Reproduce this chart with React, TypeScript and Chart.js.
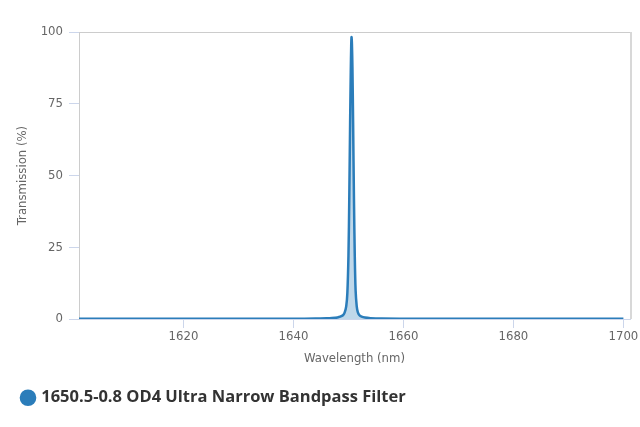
import React, { useEffect, useRef } from 'react';
import { Chart, registerables } from 'chart.js';

Chart.register(...registerables);

// Filter transmission curve
const seriesName = '1650.5-0.8 OD4 Ultra Narrow Bandpass Filter';

const wavelengths = [
  1601, 1610, 1620, 1630, 1640, 1644, 1646, 1647, 1648, 1648.5, 1649, 1649.3,
  1649.6, 1649.8, 1650.0, 1650.15, 1650.3, 1650.42, 1650.5, 1650.56, 1650.63,
  1650.72, 1650.85, 1651.0, 1651.15, 1651.3, 1651.5, 1651.7, 1652.0, 1652.4,
  1653, 1654, 1656, 1660, 1670, 1680, 1690, 1700,
];

const transmission = [
  0.05, 0.05, 0.05, 0.05, 0.1, 0.15, 0.25, 0.35, 0.55, 0.8, 1.3, 2.2,
  4.5, 9, 22, 42, 68, 86, 95, 98.2, 96,
  88, 68, 42, 22, 10, 4.5, 2.4, 1.3, 0.8,
  0.5, 0.3, 0.15, 0.1, 0.05, 0.05, 0.05, 0.05,
];

const xTicks = [1620, 1640, 1660, 1680, 1700];
const yTicks = [0, 25, 50, 75, 100];

const lineColor = 'rgb(43, 125, 186)';
const fillColor = 'rgba(43, 125, 186, 0.3)';
const axisFont = { family: '"DejaVu Sans Condensed", "DejaVu Sans", sans-serif', size: 13 };

const plotBorder = {
  id: 'plotBorder',
  afterDatasetsDraw(chart: Chart) {
    const { ctx, chartArea } = chart;
    ctx.save();
    ctx.strokeStyle = '#cccccc';
    ctx.lineWidth = 1;
    ctx.beginPath();
    ctx.moveTo(chartArea.left, chartArea.top + 0.5);
    ctx.lineTo(chartArea.right, chartArea.top + 0.5);
    ctx.stroke();
    ctx.lineWidth = 2;
    ctx.strokeStyle = '#d8d8d8';
    ctx.beginPath();
    ctx.moveTo(chartArea.right + 1, chartArea.top);
    ctx.lineTo(chartArea.right + 1, chartArea.bottom);
    ctx.stroke();
    ctx.restore();
  },
};

const App: React.FC = () => {
  const canvasRef = useRef<HTMLCanvasElement>(null);
  const chartRef = useRef<Chart | null>(null);

  useEffect(() => {
    document.body.style.margin = '0';
    if (!canvasRef.current) return;
    if (chartRef.current) chartRef.current.destroy();

    chartRef.current = new Chart(canvasRef.current, {
      type: 'line',
      data: {
        datasets: [
          {
            label: seriesName,
            data: wavelengths.map((w, i) => ({ x: w, y: transmission[i] })),
            borderColor: lineColor,
            backgroundColor: fillColor,
            pointBackgroundColor: lineColor,
            pointBorderColor: lineColor,
            borderWidth: 2.5,
            fill: 'origin',
            pointRadius: 0,
            tension: 0.3,
          },
        ],
      },
      options: {
        animation: false,
        responsive: true,
        maintainAspectRatio: false,
        layout: { padding: { top: 32, right: 10, left: 0, bottom: 11 } },
        plugins: {
          tooltip: { enabled: false },
          legend: {
            position: 'bottom',
            align: 'start',
            labels: {
              usePointStyle: true,
              pointStyle: 'circle',
              boxHeight: 10,
              boxWidth: 10,
              padding: 23,
              color: '#333333',
              font: { family: '"Open Sans", sans-serif', size: 16.5, weight: 'bold' },
            },
          },
        },
        scales: {
          x: {
            type: 'linear',
            min: 1601,
            max: 1701.2,
            afterFit: (scale: any) => {
              scale.height = 47.5;
            },
            afterBuildTicks: (scale: any) => {
              scale.ticks = xTicks.map(v => ({ value: v }));
            },
            grid: { drawOnChartArea: false, tickLength: 9, tickColor: '#ccd6eb' },
            border: { color: '#ccd6eb' },
            ticks: {
              color: '#666666',
              font: axisFont,
              padding: 1,
              maxRotation: 0,
              callback: (value: any) => String(value),
            },
            title: {
              display: true,
              text: 'Wavelength (nm)',
              color: '#666666',
              font: axisFont,
              padding: { top: 2, bottom: 0 },
            },
          },
          y: {
            min: 0,
            max: 100,
            afterFit: (scale: any) => {
              scale.width = 79;
            },
            afterBuildTicks: (scale: any) => {
              scale.ticks = yTicks.map(v => ({ value: v }));
            },
            grid: {
              drawOnChartArea: false,
              tickLength: 10,
              tickColor: '#ccd6eb',
            },
            border: { color: '#cccccc' },
            ticks: {
              color: '#666666',
              font: axisFont,
              padding: 6,
              callback: (value: any) => String(value),
            },
            title: {
              display: true,
              text: 'Transmission (%)',
              color: '#666666',
              font: axisFont,
              padding: { top: 15, bottom: 0 },
            },
          },
        },
      },
      plugins: [plotBorder],
    });

    return () => {
      if (chartRef.current) {
        chartRef.current.destroy();
        chartRef.current = null;
      }
    };
  }, []);

  return (
    <div style={{ width: 640, height: 427, position: 'relative' }}>
      <canvas ref={canvasRef}></canvas>
    </div>
  );
};

export default App;
